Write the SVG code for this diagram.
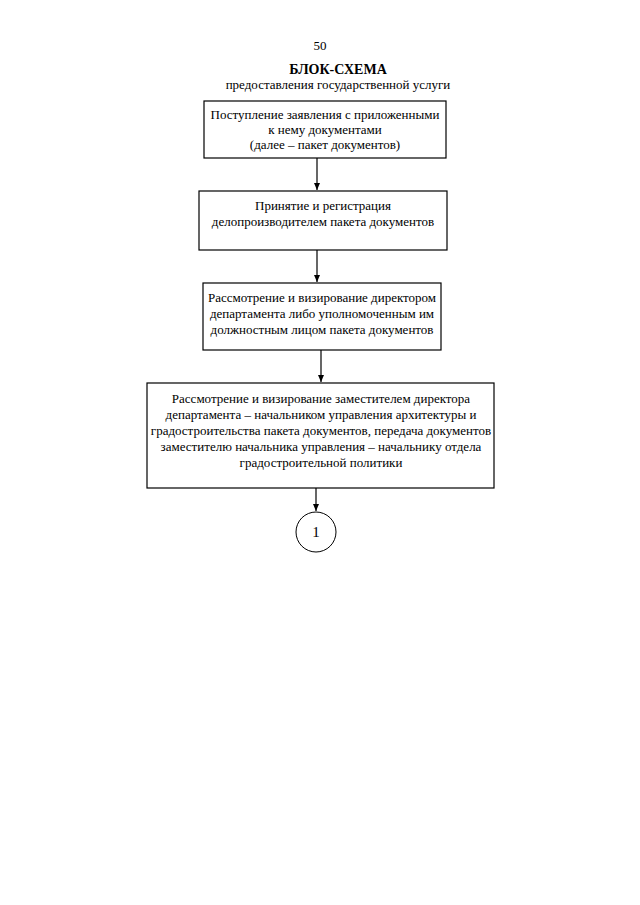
<svg xmlns="http://www.w3.org/2000/svg" width="640" height="905" viewBox="0 0 640 905">
<defs>
<style>
text{font-family:"Liberation Serif","Times New Roman",serif;font-size:13px;fill:#000;text-anchor:middle}
.b{font-weight:bold;font-size:14px}
.big{font-size:15px}
.box{fill:#fff;stroke:#000;stroke-width:1.2}
.ln{stroke:#000;stroke-width:1.2;fill:none}
</style>
<marker id="ah" markerWidth="8" markerHeight="8" refX="7" refY="4" orient="auto" markerUnits="userSpaceOnUse">
<path d="M0,1 L7,4 L0,7 Z" fill="#000"/>
</marker>
</defs>
<rect width="640" height="905" fill="#fff"/>
<g id="header">
<text x="320" y="50">50</text>
<text class="b" x="338" y="74">БЛОК-СХЕМА</text>
<text x="338" y="89">предоставления государственной услуги</text>
</g>
<g id="n1">
<rect class="box" x="204" y="101" width="242" height="57"/>
<text x="325" y="119">Поступление заявления с приложенными</text>
<text x="325" y="134">к нему документами</text>
<text x="325" y="149">(далее – пакет документов)</text>
</g>
<g id="n2">
<rect class="box" x="199" y="191" width="248" height="59"/>
<text x="323" y="210">Принятие и регистрация</text>
<text x="323" y="226">делопроизводителем пакета документов</text>
</g>
<g id="n3">
<rect class="box" x="203" y="283" width="238" height="67"/>
<text x="322" y="302">Рассмотрение и визирование директором</text>
<text x="322" y="318">департамента либо уполномоченным им</text>
<text x="322" y="334">должностным лицом пакета документов</text>
</g>
<g id="n4">
<rect class="box" x="147" y="383" width="347" height="105"/>
<text x="321" y="403">Рассмотрение и визирование заместителем директора</text>
<text x="321" y="419">департамента – начальником управления архитектуры и</text>
<text x="321" y="435">градостроительства пакета документов, передача документов</text>
<text x="321" y="451">заместителю начальника управления – начальнику отдела</text>
<text x="321" y="467">градостроительной политики</text>
</g>
<g id="n5">
<circle cx="316" cy="532" r="20" fill="#fff" stroke="#000" stroke-width="1"/>
<text class="big" x="316" y="537">1</text>
</g>
<g id="connectors">
<line class="ln" x1="317" y1="158" x2="317" y2="190" marker-end="url(#ah)"/>
<line class="ln" x1="317" y1="250" x2="317" y2="282" marker-end="url(#ah)"/>
<line class="ln" x1="321" y1="350" x2="321" y2="382" marker-end="url(#ah)"/>
<line class="ln" x1="316" y1="488" x2="316" y2="511" marker-end="url(#ah)"/>
</g>
</svg>
